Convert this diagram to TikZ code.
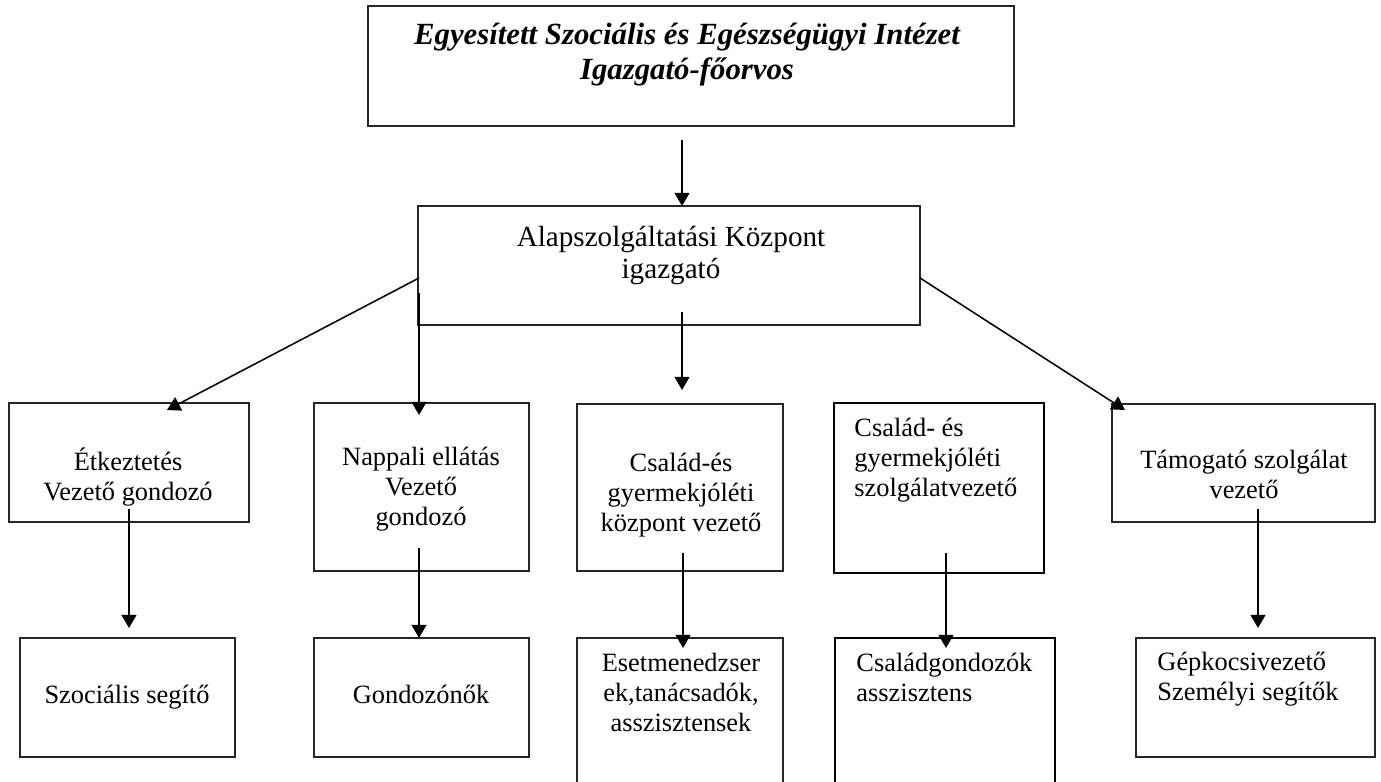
\documentclass[tikz,border=0pt]{standalone}
\usepackage{fontspec}
\setmainfont{Liberation Serif}
\usetikzlibrary{arrows.meta}

\newcommand{\pxu}{0.4545pt}

\tikzset{
  box/.style={draw=black!85, line width=0.5pt, inner sep=0pt},
  thickbox/.style={draw=black, line width=1pt, inner sep=0pt},
  txt/.style={inner sep=0pt, align=center, anchor=north,
    font=\fontsize{12}{13.6}\selectfont,
    execute at begin node=\strut, execute at end node=\strut},
  ltxt/.style={txt, align=left, anchor=north west},
  arr/.style={line width=0.7pt, -{Triangle[width=6.8pt,length=6pt]}}
}

\begin{document}
\begin{tikzpicture}[x=0.4545pt,y=-0.4545pt]
\clip (0,0) rectangle (1381,782);
% boxes
\node [box, minimum width=646*\pxu, minimum height=120*\pxu] (top) at (691,66) {};
\node [box, minimum width=502*\pxu, minimum height=119*\pxu] (alap) at (669,265.5) {};
\node [box, minimum width=240*\pxu, minimum height=119*\pxu] (etk) at (129,462.5) {};
\node [box, minimum width=215*\pxu, minimum height=168*\pxu] (napp) at (421.5,487) {};
\node [box, minimum width=206*\pxu, minimum height=167*\pxu] (csgyk) at (680,487.5) {};
\node [thickbox, minimum width=210*\pxu, minimum height=170*\pxu] (csgysz) at (939,488) {};
\node [box, minimum width=263*\pxu, minimum height=118*\pxu] (tam) at (1243.5,463) {};
\node [box, minimum width=215*\pxu, minimum height=119*\pxu] (szoc) at (127.5,697.5) {};
\node [box, minimum width=215*\pxu, minimum height=119*\pxu] (gond) at (421.5,697.5) {};
\node [box, minimum width=206*\pxu, minimum height=180*\pxu] (eset) at (680,728) {};
\node [thickbox, minimum width=220*\pxu, minimum height=180*\pxu] (csgond) at (945,728) {};
\node [box, minimum width=239*\pxu, minimum height=119*\pxu] (gepk) at (1255.5,697.5) {};
% texts
\node [txt, font=\fontsize{14}{15.9}\selectfont\bfseries\itshape] (top-t) at (687,22.5)
  {Egyesített Szociális és Egészségügyi Intézet\\Igazgató-főorvos};
\node [txt, font=\fontsize{13.25}{14.6}\selectfont] (alap-t) at (671,225.5)
  {Alapszolgáltatási Központ\\igazgató};
\node [txt] (etk-t) at (128,447) {Étkeztetés\\Vezető gondozó};
\node [txt] (napp-t) at (421,447) {Nappali ellátás\\Vezető\\gondozó};
\node [txt] (csgyk-t) at (681,453) {Család-és\\gyermekjóléti\\központ vezető};
\node [ltxt] (csgysz-t) at (854,418) {Család- és\\gyermekjóléti\\szolgálatvezető};
\node [txt] (tam-t) at (1244,450) {Támogató szolgálat\\vezető};
\node [txt] (szoc-t) at (127,682) {Szociális segítő};
\node [txt] (gond-t) at (421,682) {Gondozónők};
\node [txt] (eset-t) at (681,653) {Esetmenedzser\\ek,tanácsadók,\\asszisztensek};
\node [ltxt] (csgond-t) at (856,653) {Családgondozók\\asszisztens};
\node [ltxt] (gepk-t) at (1157,652) {Gépkocsivezető\\Személyi segítők};
% arrow ends
\coordinate (top-out) at (682,140);
\coordinate (alap-in) at (682,206);
\coordinate (alap-l) at (419,278);
\coordinate (alap-ll) at (419,293);
\coordinate (alap-m) at (682,312);
\coordinate (alap-r) at (920,278);
\coordinate (etk-in) at (167,410);
\coordinate (napp-in) at (419,415);
\coordinate (csgyk-in) at (682,390);
\coordinate (tam-in) at (1125,410);
\coordinate (etk-out) at (129,509);
\coordinate (szoc-in) at (129,628);
\coordinate (napp-out) at (419,548);
\coordinate (gond-in) at (419,638);
\coordinate (csgyk-out) at (683,553);
\coordinate (eset-in) at (683,648);
\coordinate (csgysz-out) at (946,553);
\coordinate (csgond-in) at (946,648);
\coordinate (tam-out) at (1258,509);
\coordinate (gepk-in) at (1258,628);
% arrows
\draw [arr] (top-out) -- (alap-in);
\draw [arr] (alap-l) -- (etk-in);
\draw [arr] (alap-ll) -- (napp-in);
\draw [arr] (alap-m) -- (csgyk-in);
\draw [arr] (alap-r) -- (tam-in);
\draw [arr] (etk-out) -- (szoc-in);
\draw [arr] (napp-out) -- (gond-in);
\draw [arr] (csgyk-out) -- (eset-in);
\draw [arr] (csgysz-out) -- (csgond-in);
\draw [arr] (tam-out) -- (gepk-in);
\end{tikzpicture}
\end{document}
